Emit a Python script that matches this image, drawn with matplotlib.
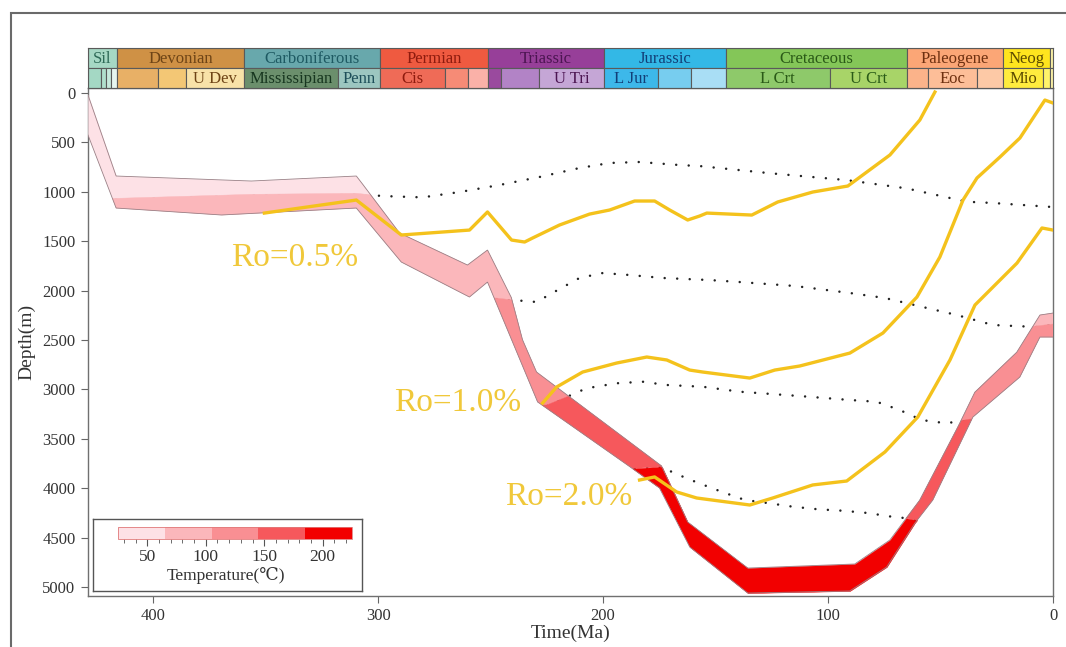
import numpy as np
import matplotlib
matplotlib.use("Agg")
import matplotlib.pyplot as plt
from matplotlib.colors import ListedColormap, BoundaryNorm
from matplotlib.cm import ScalarMappable
from matplotlib.ticker import MultipleLocator
from matplotlib.patches import Rectangle

plt.rcParams["font.family"] = ["Liberation Serif", "DejaVu Serif", "DejaVu Sans"]

# burial history of the layer: top and base surfaces (age Ma, depth m)
top_age = [429, 416.5, 355.9, 309.7, 303.9, 290.5, 260.3, 251.4, 240.7, 235.8, 229.6,
           174.0, 162.4, 135.7, 88.1, 72.5, 65.9, 59.2, 41.4, 34.7, 16.0, 5.8, 0]
top_depth = [20, 840, 891, 840, 1012, 1417, 1741, 1589, 2075, 2500, 2824,
             3775, 4342, 4808, 4767, 4524, 4322, 4119, 3340, 3026, 2621, 2247, 2227]
base_age = [429, 416.5, 369.3, 309.7, 289.7, 259.4, 251.4, 229.1, 186.0, 174.9,
            161.5, 135.7, 90.3, 73.9, 61.4, 53.4, 35.6, 14.7, 5.8, 0]
base_depth = [425, 1164, 1235, 1164, 1711, 2065, 1913, 3128, 3816, 3998,
              4595, 5061, 5040, 4797, 4352, 4119, 3279, 2874, 2470, 2470]

# isotherms (65, 105, 145, 185 C)
iso65_age = [416.5, 355.9, 309.7, 298.6, 280.3, 263.8, 246.1, 228.3, 210.5, 197.1,
             183.8, 166.0, 157.1, 125.2, 91.8, 65.1, 38.4, 26.7, 0]
iso65_depth = [1066, 1025, 1015, 1042, 1056, 1002, 931, 850, 759, 708,
               698, 729, 739, 813, 881, 965, 1100, 1113, 1154]
iso105_age = [247.4, 240.3, 229.6, 220.2, 210.5, 200.2, 188.2, 173.5, 152.6, 139.3,
              114.8, 90.3, 74.7, 58.4, 42.8, 26.7, 10.2, 0]
iso105_depth = [2075, 2095, 2115, 1994, 1872, 1822, 1842, 1872, 1893, 1913,
                1953, 2024, 2075, 2163, 2247, 2348, 2365, 2338]
iso145_age = [225.1, 214.2, 207.5, 194.1, 182.4, 171.9, 155.7, 139.3, 112.6, 90.3,
              78.4, 68.1, 58.4, 47.3, 36.9]
iso145_depth = [3158, 3057, 2989, 2938, 2922, 2955, 2973, 3023, 3067, 3107,
                3125, 3209, 3310, 3343, 3300]
iso185_age = [186.0, 174.1, 168.2, 158.0, 147.4, 137.0, 125.9, 115.7, 104.6, 93.4,
              82.3, 71.8, 65.9, 61.0]
iso185_depth = [3800, 3782, 3849, 3944, 4035, 4119, 4153, 4187, 4213, 4228,
                4251, 4288, 4302, 4322]

# vitrinite reflectance lines
ro05_age = [350.6, 309.7, 289.7, 259.4, 251.4, 240.7, 234.9, 231.4, 219.4, 206.0, 197.1,
            186.0, 177.1, 170.4, 162.4, 157.1, 153.9, 133.9, 122.4, 106.8, 91.2, 72.5, 59.2, 52.5]
ro05_depth = [1215, 1083, 1437, 1387, 1204, 1488, 1508, 1468, 1336, 1225, 1184,
              1093, 1093, 1184, 1285, 1245, 1215, 1235, 1103, 1002, 941, 627, 273, -10]
ro10_age = [226.9, 220.7, 209.1, 194.0, 180.6, 171.7, 161.5, 155.7, 134.8, 123.7, 112.6,
            90.3, 75.6, 60.5, 50.3, 40.0, 33.8, 23.6, 14.7, 8.0, 3.6, 0]
ro10_depth = [3138, 2976, 2824, 2733, 2672, 2702, 2804, 2824, 2885, 2804, 2763,
              2632, 2429, 2065, 1660, 1083, 860, 648, 455, 223, 71, 101]
ro20_age = [183.8, 177.1, 167.3, 158.4, 134.8, 124.6, 106.8, 91.7, 74.7, 60.1, 45.8,
            34.7, 16.0, 4.9, 0]
ro20_depth = [3917, 3886, 4038, 4099, 4170, 4099, 3967, 3927, 3633, 3279, 2702,
              2146, 1721, 1366, 1387]

ro_labels = ["Ro=0.5%", "Ro=1.0%", "Ro=2.0%"]
ro_label_age = [365.3, 292.8, 243.8]
ro_label_depth = [1670, 3138, 4089]

temp_bounds = [25, 65, 105, 145, 185, 225]
temp_ticks = [50, 100, 150, 200]
temp_colors = ["#fde1e6", "#fbb7bb", "#f98f93", "#f6585c", "#f20000"]

# geologic time scale
period_names = ["Sil", "Devonian", "Carboniferous", "Permian", "Triassic", "Jurassic",
                "Cretaceous", "Paleogene", "Neog", ""]
period_old = [429, 416.2, 359.5, 299.4, 251.0, 199.6, 145.5, 65.1, 22.4, 1.3]
period_young = [416.2, 359.5, 299.4, 251.0, 199.6, 145.5, 65.1, 22.4, 1.3, 0]
period_colors = ["#a6d8c4", "#cf9145", "#68a8ac", "#ef5a40", "#973f99", "#33b8e6",
                 "#84c658", "#fba676", "#ffe51e", "#fff4a8"]
period_text = ["#2f6b58", "#6e4416", "#1e5a63", "#8e1b0e", "#4c1552", "#123f78",
               "#2a5a17", "#6e3010", "#5c4b00", "#5c4b00"]

epoch_names = ["", "", "", "", "", "", "U Dev", "Mississipian", "Penn", "Cis", "", "",
               "", "", "U Tri", "L Jur", "", "", "L Crt", "U Crt", "", "Eoc", "",
               "Mio", "", ""]
epoch_old = [429, 423.3, 421.0, 418.6, 416.2, 397.8, 385.5, 359.5, 318.0, 299.4, 270.5,
             260.2, 251.0, 245.3, 228.3, 199.6, 175.6, 160.8, 145.5, 99.2, 65.1, 55.5,
             33.7, 22.4, 4.3, 1.3]
epoch_young = [423.3, 421.0, 418.6, 416.2, 397.8, 385.5, 359.5, 318.0, 299.4, 270.5,
               260.2, 251.0, 245.3, 228.3, 199.6, 175.6, 160.8, 145.5, 99.2, 65.1, 55.5,
               33.7, 22.4, 4.3, 1.3, 0]
epoch_colors = ["#a4d8c4", "#b0dfcc", "#c7e9dc", "#e6f5ef", "#e8b066", "#f3c775",
                "#f8e2a8", "#6b8f6c", "#9cc6c0", "#ef6b57", "#f68b76", "#fab1a8",
                "#9a4a9e", "#b283c6", "#c5a6d6", "#3db8ea", "#77cdef", "#a9def5",
                "#8ec96a", "#a8d468", "#fbb38a", "#fdbe98", "#fdc9a6", "#ffec3e",
                "#fff36a", "#fff4a8"]
epoch_text = ["#333"] * 6 + ["#6e4416", "#17361f", "#1e4f5a", "#8e1b0e"] + ["#333"] * 4 + \
             ["#4c1552", "#123f78", "#333", "#333", "#2a5a17", "#2a5a17", "#333", "#6e3010",
              "#333", "#5c4b00", "#333", "#333"]

W, H = 1066, 647
fig = plt.figure(figsize=(W / 100, H / 100), dpi=100)
ax = fig.add_axes([88 / W, 1 - 596 / H, 965 / W, 508 / H])

# temperature-coloured burial band
grid = np.linspace(0, 429, 5000)
top = np.interp(grid, top_age[::-1], top_depth[::-1])
base = np.interp(grid, base_age[::-1], base_depth[::-1])
isos = [(iso65_age, iso65_depth), (iso105_age, iso105_depth),
        (iso145_age, iso145_depth), (iso185_age, iso185_depth)]
levels = [top]
for a, d in isos:
    levels.append(np.clip(np.interp(grid, a[::-1], d[::-1]), top, base))
levels.append(base)
for k in range(5):
    lo, hi = levels[k], levels[k + 1]
    ax.fill_between(grid, lo, hi, where=(hi - lo) > 0.5, color=temp_colors[k],
                    lw=0.3, edgecolor=temp_colors[k], zorder=3)
ax.plot(grid, top, color="#9a8086", lw=0.6, zorder=4)
ax.plot(grid, base, color="#9a8086", lw=0.6, zorder=4)

for a, d in isos:
    ax.plot(a, d, color="#222222", lw=1.8, ls=(0, (0.01, 5)),
            dash_capstyle="round", zorder=2)

for a, d in [(ro05_age, ro05_depth), (ro10_age, ro10_depth), (ro20_age, ro20_depth)]:
    ax.plot(a, d, color="#f4c21c", lw=2.4, solid_joinstyle="round", zorder=5)
for t, a, d in zip(ro_labels, ro_label_age, ro_label_depth):
    ax.text(a, d, t, ha="left", va="center", fontsize=24, color="#f0c83a", zorder=6)

ax.set_xlim(429, 0)
ax.set_ylim(5091, -51)
ax.set_xticks(np.arange(0, 401, 100))
ax.set_yticks(np.arange(0, 5001, 500))
ax.tick_params(direction="out", length=5, width=0.8, color="#666666",
               labelsize=12, labelcolor="#333333", pad=4)
for s in ax.spines.values():
    s.set_color("#707070")
    s.set_linewidth(1.0)
ax.set_xlabel("Time(Ma)", fontsize=14, color="#333333", labelpad=0)
ax.set_ylabel("Depth(m)", fontsize=14, color="#333333", labelpad=5)

# time scale bar
bar = fig.add_axes([88 / W, 1 - 88 / H, 965 / W, 40 / H])
bar.set_xlim(429, 0)
bar.set_ylim(0, 2)
bar.barh(1.5, np.subtract(period_old, period_young), left=period_young, height=1,
         color=period_colors, edgecolor="#5a5a5a", lw=0.8)
bar.barh(0.5, np.subtract(epoch_old, epoch_young), left=epoch_young, height=1,
         color=epoch_colors, edgecolor="#5a5a5a", lw=0.8)
for n, o, y, c in zip(period_names, period_old, period_young, period_text):
    bar.text((o + y) / 2, 1.47, n, ha="center", va="center", fontsize=12, color=c)
for n, o, y, c in zip(epoch_names, epoch_old, epoch_young, epoch_text):
    if n:
        bar.text((o + y) / 2, 0.47, n, ha="center", va="center", fontsize=12, color=c)
bar.set_xticks([])
bar.set_yticks([])
for s in bar.spines.values():
    s.set_color("#5a5a5a")
    s.set_linewidth(0.8)

# temperature legend
leg = fig.add_axes([93 / W, 1 - 591 / H, 269 / W, 72 / H])
leg.set_zorder(10)
leg.set_xticks([])
leg.set_yticks([])
for s in leg.spines.values():
    s.set_color("#555555")
    s.set_linewidth(1.0)
cax = fig.add_axes([118 / W, 1 - 539 / H, 234 / W, 12 / H])
cax.set_zorder(11)
cmap = ListedColormap(temp_colors)
norm = BoundaryNorm(temp_bounds, cmap.N)
cb = fig.colorbar(ScalarMappable(norm=norm, cmap=cmap), cax=cax,
                  orientation="horizontal", spacing="proportional")
cb.set_ticks(temp_ticks)
cb.minorlocator = MultipleLocator(10)
cb.ax.tick_params(which="major", length=5, width=0.8, color="#555555",
                  labelsize=12.5, labelcolor="#333333", pad=2)
cb.ax.tick_params(which="minor", length=3, width=0.6, color="#555555")
cb.outline.set_edgecolor("#e07a7a")
cb.outline.set_linewidth(0.6)
fig.text(226 / W, 1 - 575 / H, "Temperature(\u2103)", ha="center", va="center",
         fontsize=12.5, color="#333333", zorder=12)

# outer frame
fig.add_artist(Rectangle((11 / W, -0.1), 1.2, 1.1 - 13 / H, transform=fig.transFigure,
                         fill=False, edgecolor="#6a6a6a", lw=1.5))

fig.savefig("out.png", dpi=100)
